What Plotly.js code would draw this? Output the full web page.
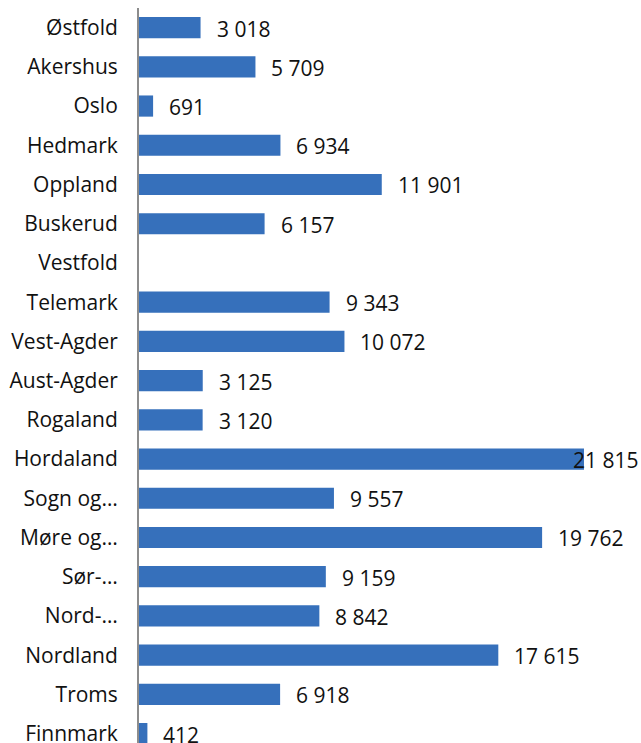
<!DOCTYPE html>
<html>
<head>
<meta charset="utf-8">
<script src="https://cdn.plot.ly/plotly-3.0.1.min.js"></script>
<style>html,body{margin:0;padding:0;background:#fff;}#chart{width:641px;height:743px;}</style>
</head>
<body>
<div id="chart"></div>
<script>
const categories = ["Østfold","Akershus","Oslo","Hedmark","Oppland","Buskerud","Vestfold","Telemark","Vest-Agder","Aust-Agder","Rogaland","Hordaland","Sogn og…","Møre og…","Sør-…","Nord-…","Nordland","Troms","Finnmark"];
const values = [3018,5709,691,6934,11901,6157,null,9343,10072,3125,3120,21815,9557,19762,9159,8842,17615,6918,412];

const XMAX = 24610;
const fmt = v => String(v).replace(/\B(?=(\d{3})+(?!\d))/g, " ");

const annotations = [];
values.forEach((v, i) => {
  if (v === null) return;
  const nearEdge = v > 20000;
  annotations.push({
    x: nearEdge ? XMAX : v, y: categories[i], xref: "x", yref: "y",
    text: fmt(v), showarrow: false,
    xanchor: nearEdge ? "right" : "left",
    xshift: nearEdge ? 0 : 14, yshift: -1,
    font: {family: "Open Sans, sans-serif", size: 21, color: "#111"}
  });
});

const trace = {
  type: "bar", orientation: "h",
  x: values, y: categories,
  marker: {color: "#3670bb", line: {width: 0}},
  width: 0.54,
  hoverinfo: "none",
  cliponaxis: false
};

const layout = {
  width: 641, height: 743,
  margin: {l: 139, r: 0, t: 8, b: 0, pad: 0},
  paper_bgcolor: "#fff", plot_bgcolor: "#fff",
  showlegend: false,
  xaxis: {visible: false, range: [0, XMAX], fixedrange: true},
  yaxis: {
    type: "category",
    range: [18.24, -0.5],
    showline: true, linecolor: "#8c8c8c", linewidth: 2,
    showgrid: false, zeroline: false, ticks: "",
    ticklabelstandoff: 15,
    tickfont: {family: "Open Sans, sans-serif", size: 21, color: "#111"},
    fixedrange: true
  },
  annotations: annotations
};

Plotly.newPlot("chart", [trace], layout, {displayModeBar: false, staticPlot: true});
</script>
</body>
</html>
